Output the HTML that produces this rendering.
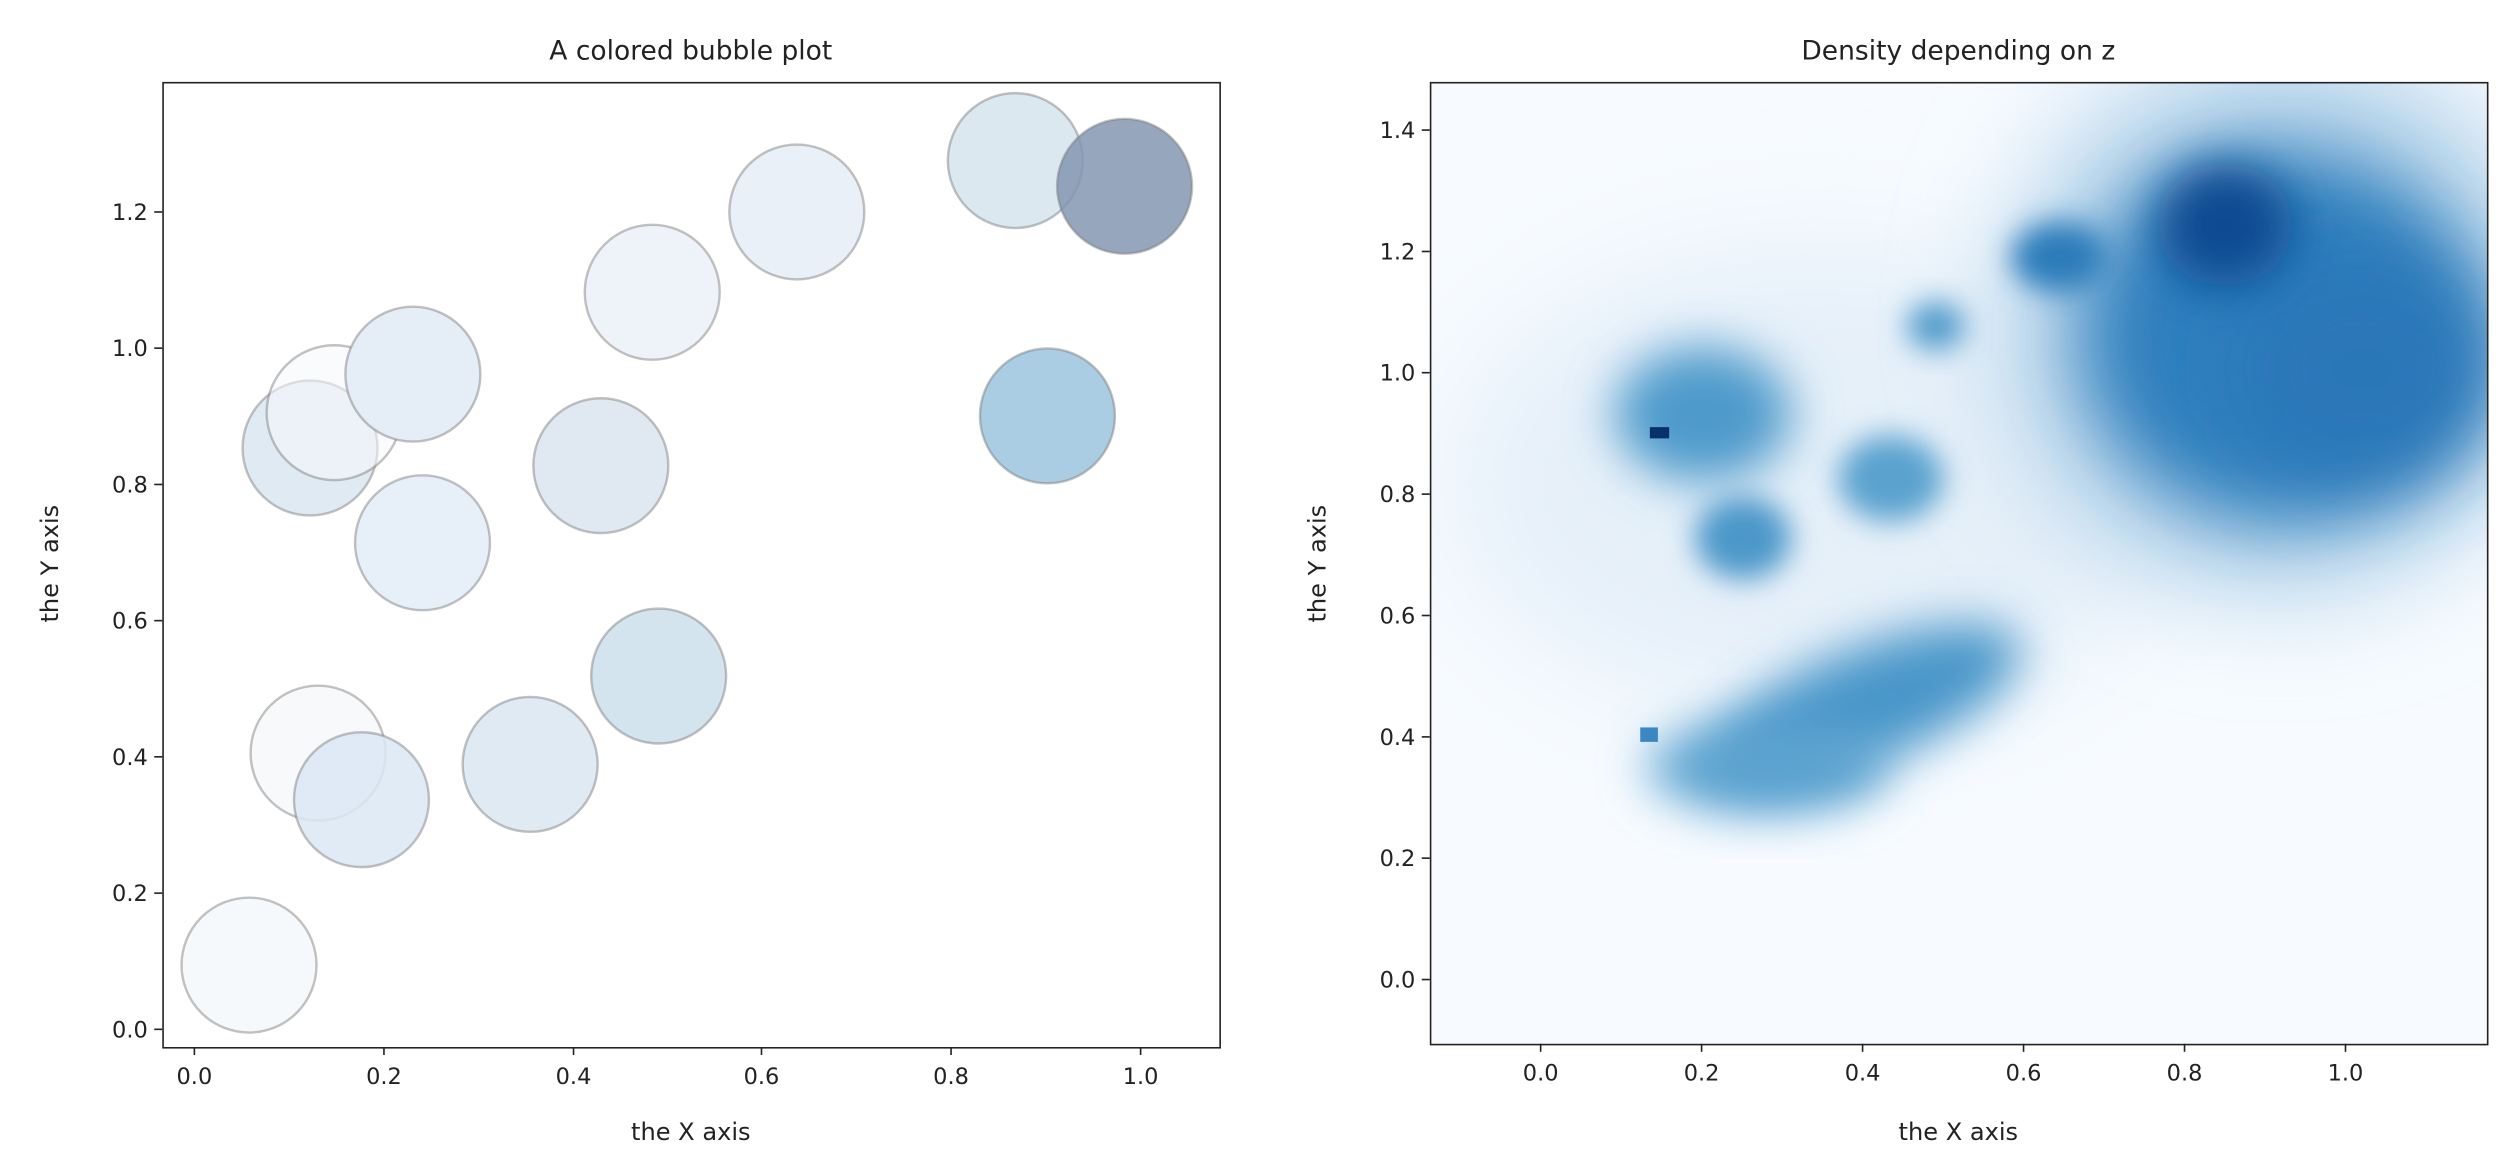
<!DOCTYPE html>
<html><head><meta charset="utf-8"><style>
html,body{margin:0;padding:0;background:#fff;}
svg{display:block;}
text{font-family:"DejaVu Sans","Liberation Sans",sans-serif;fill:#222;}
</style></head><body>
<svg width="2519" height="1161" viewBox="0 0 1568 723" preserveAspectRatio="none" xmlns="http://www.w3.org/2000/svg">
<defs>
<clipPath id="c2"><rect x="890" y="51" width="658" height="599"/></clipPath>
<filter id="b1" x="-50%" y="-50%" width="200%" height="200%"><feGaussianBlur stdDeviation="24"/></filter>
<filter id="b2" x="-50%" y="-50%" width="200%" height="200%"><feGaussianBlur stdDeviation="15"/></filter>
<filter id="b4" x="-50%" y="-50%" width="200%" height="200%"><feGaussianBlur stdDeviation="9"/></filter>
<filter id="b3" x="-50%" y="-50%" width="200%" height="200%"><feGaussianBlur stdDeviation="35"/></filter>
</defs>
<rect width="1568" height="723" fill="#fff"/>

<!-- LEFT PLOT -->
<text x="430" y="37" font-size="16.5" text-anchor="middle">A colored bubble plot</text>
<g stroke="rgba(120,120,120,0.45)" stroke-width="1.5">
<circle cx="155" cy="601" r="42" fill="#f6f9fc"/>
<circle cx="198" cy="469" r="42" fill="#f7f9fb"/>
<circle cx="225" cy="498" r="42" fill="rgba(220,232,244,0.85)"/>
<circle cx="330" cy="476" r="42" fill="#dfeaf3"/>
<circle cx="410" cy="421" r="42" fill="#d3e4ef"/>
<circle cx="193" cy="279" r="42" fill="#e0eaf3"/>
<circle cx="208" cy="257" r="42" fill="rgba(246,248,251,0.55)"/>
<circle cx="257" cy="233" r="42" fill="#e5edf6"/>
<circle cx="263" cy="338" r="42" fill="#e7eff8"/>
<circle cx="374" cy="290" r="42" fill="#e0e9f1"/>
<circle cx="406" cy="182" r="42" fill="#eef3fa"/>
<circle cx="496" cy="132" r="42" fill="#e9f0f7"/>
<circle cx="632" cy="100" r="42" fill="#dce8f0"/>
<circle cx="700" cy="116" r="42" fill="rgba(130,150,178,0.85)"/>
<circle cx="652" cy="259" r="42" fill="#abcde3"/>
</g>
<rect x="101.5" y="51.5" width="658" height="601" fill="none" stroke="#222" stroke-width="1"/>
<g stroke="#222" stroke-width="1">
<line x1="121" y1="652" x2="121" y2="657"/><line x1="239" y1="652" x2="239" y2="657"/><line x1="357" y1="652" x2="357" y2="657"/><line x1="474" y1="652" x2="474" y2="657"/><line x1="592" y1="652" x2="592" y2="657"/><line x1="710" y1="652" x2="710" y2="657"/>
<line x1="96" y1="641" x2="101" y2="641"/><line x1="96" y1="556.2" x2="101" y2="556.2"/><line x1="96" y1="471.3" x2="101" y2="471.3"/><line x1="96" y1="386.5" x2="101" y2="386.5"/><line x1="96" y1="301.7" x2="101" y2="301.7"/><line x1="96" y1="216.8" x2="101" y2="216.8"/><line x1="96" y1="132" x2="101" y2="132"/>
</g>
<g font-size="14" text-anchor="middle">
<text x="121" y="675">0.0</text><text x="239" y="675">0.2</text><text x="357" y="675">0.4</text><text x="474" y="675">0.6</text><text x="592" y="675">0.8</text><text x="710" y="675">1.0</text>
</g>
<g font-size="14" text-anchor="end">
<text x="92" y="646">0.0</text><text x="92" y="561.2">0.2</text><text x="92" y="476.3">0.4</text><text x="92" y="391.5">0.6</text><text x="92" y="306.7">0.8</text><text x="92" y="221.8">1.0</text><text x="92" y="137">1.2</text>
</g>
<text x="430" y="710" font-size="15" text-anchor="middle">the X axis</text>
<text x="0" y="0" font-size="15" text-anchor="middle" transform="translate(36,351) rotate(-90)">the Y axis</text>

<!-- RIGHT PLOT -->
<text x="1219" y="37" font-size="16.5" text-anchor="middle">Density depending on z</text>
<g clip-path="url(#c2)">
<rect x="890" y="51" width="658" height="599" fill="#f7fbff"/>
<ellipse cx="1130" cy="300" rx="230" ry="150" fill="#e6f0f9" filter="url(#b3)"/>
<ellipse cx="1420" cy="200" rx="170" ry="170" fill="#b3d2e9" filter="url(#b3)"/>
<ellipse cx="1420" cy="210" rx="125" ry="115" fill="#2f7fbd" filter="url(#b1)"/>
<ellipse cx="1470" cy="230" rx="80" ry="70" fill="#2a77b8" filter="url(#b1)"/>
<ellipse cx="1385" cy="140" rx="42" ry="38" fill="#0a4a90" filter="url(#b2)"/>
<ellipse cx="1282" cy="160" rx="30" ry="22" fill="#2c7bba" filter="url(#b4)"/>
<ellipse cx="1205" cy="203" rx="18" ry="15" fill="#4d99ca" filter="url(#b4)"/>
<ellipse cx="1060" cy="258" rx="55" ry="42" fill="#4e9acb" filter="url(#b2)"/>
<ellipse cx="1085" cy="335" rx="30" ry="26" fill="#4b97c9" filter="url(#b4)"/>
<ellipse cx="1177" cy="298" rx="33" ry="27" fill="#5aa2cf" filter="url(#b4)"/>
<ellipse cx="1160" cy="440" rx="105" ry="36" fill="#4a96c9" transform="rotate(-22 1160 440)" filter="url(#b2)"/>
<ellipse cx="1100" cy="478" rx="75" ry="28" fill="#5ba3d0" filter="url(#b2)"/>
<rect x="1027" y="266" width="12" height="7" fill="#08306b"/>
<rect x="1020" y="452" width="12" height="10" fill="#3a87c2" filter="url(#b4)" opacity="0"/>
<rect x="1021" y="453" width="11" height="9" fill="#3a87c2"/>
</g>
<rect x="890.5" y="51.5" width="658" height="599" fill="none" stroke="#222" stroke-width="1"/>
<g stroke="#222" stroke-width="1">
<line x1="959" y1="650" x2="959" y2="655"/><line x1="1059.2" y1="650" x2="1059.2" y2="655"/><line x1="1159.4" y1="650" x2="1159.4" y2="655"/><line x1="1259.6" y1="650" x2="1259.6" y2="655"/><line x1="1359.8" y1="650" x2="1359.8" y2="655"/><line x1="1460" y1="650" x2="1460" y2="655"/>
<line x1="885" y1="610" x2="890" y2="610"/><line x1="885" y1="534.4" x2="890" y2="534.4"/><line x1="885" y1="458.9" x2="890" y2="458.9"/><line x1="885" y1="383.3" x2="890" y2="383.3"/><line x1="885" y1="307.7" x2="890" y2="307.7"/><line x1="885" y1="232.1" x2="890" y2="232.1"/><line x1="885" y1="156.6" x2="890" y2="156.6"/><line x1="885" y1="81" x2="890" y2="81"/>
</g>
<g font-size="14" text-anchor="middle">
<text x="959" y="673">0.0</text><text x="1059.2" y="673">0.2</text><text x="1159.4" y="673">0.4</text><text x="1259.6" y="673">0.6</text><text x="1359.8" y="673">0.8</text><text x="1460" y="673">1.0</text>
</g>
<g font-size="14" text-anchor="end">
<text x="881" y="615">0.0</text><text x="881" y="539.4">0.2</text><text x="881" y="463.9">0.4</text><text x="881" y="388.3">0.6</text><text x="881" y="312.7">0.8</text><text x="881" y="237.1">1.0</text><text x="881" y="161.6">1.2</text><text x="881" y="86">1.4</text>
</g>
<text x="1219" y="710" font-size="15" text-anchor="middle">the X axis</text>
<text x="0" y="0" font-size="15" text-anchor="middle" transform="translate(825,351) rotate(-90)">the Y axis</text>
</svg>
</body></html>
